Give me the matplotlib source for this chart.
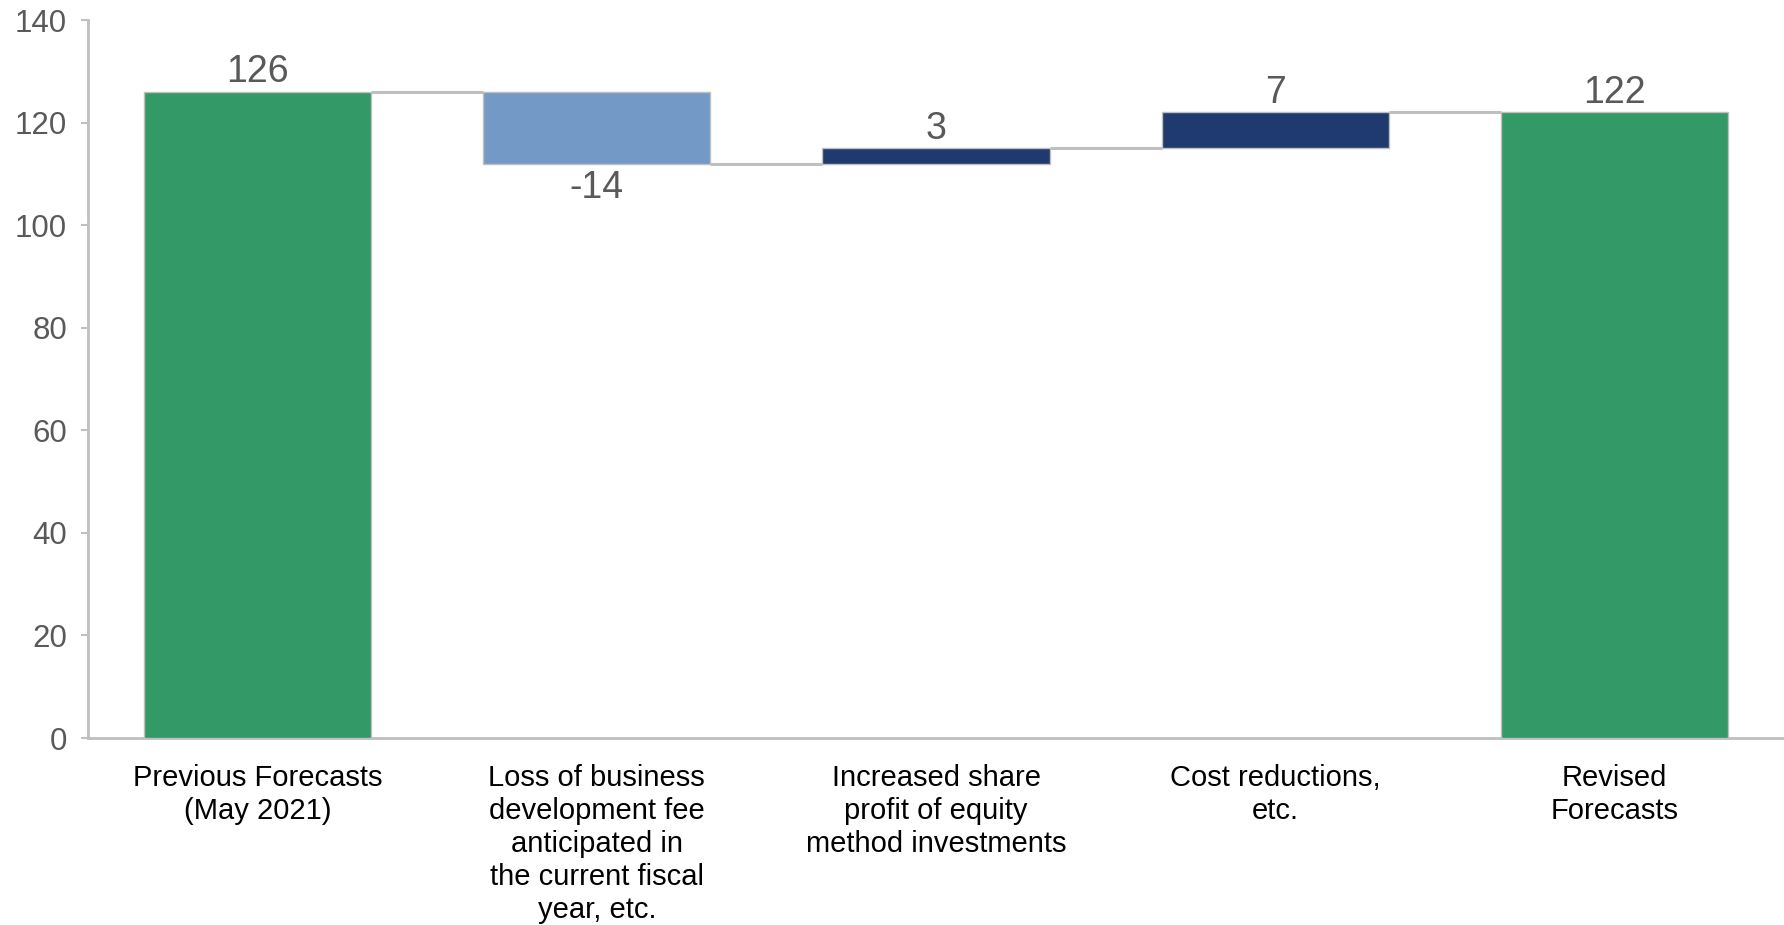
import numpy as np
import matplotlib.pyplot as plt

categories = [
    "Previous Forecasts\n(May 2021)",
    "Loss of business\ndevelopment fee\nanticipated in\nthe current fiscal\nyear, etc.",
    "Increased share\nprofit of equity\nmethod investments",
    "Cost reductions,\netc.",
    "Revised\nForecasts",
]
values = [126, -14, 3, 7, 122]
kinds = ["total", "delta", "delta", "delta", "total"]

GREEN = "#339966"
NEG = "#7399c6"
POS = "#1f3a6e"
GRAY = "#595959"
LINE = "#bfbfbf"

plt.rcParams["font.family"] = ["Liberation Sans", "DejaVu Sans"]

# waterfall bottoms / tops
bottoms, heights, colors = [], [], []
level = 0
for v, k in zip(values, kinds):
    if k == "total":
        bottoms.append(0)
        heights.append(v)
        colors.append(GREEN)
        level = v
    else:
        if v < 0:
            bottoms.append(level + v)
            heights.append(-v)
            colors.append(NEG)
        else:
            bottoms.append(level)
            heights.append(v)
            colors.append(POS)
        level += v
levels = np.cumsum([values[0]] + values[1:4]).tolist() + [values[4]]

fig = plt.figure(figsize=(17.84, 9.25), dpi=100)
ax = fig.add_axes([88 / 1784, 1 - 738 / 925, 1 - 88 / 1784, (738 - 20) / 925])

x = np.arange(len(categories))
w = 0.67
ax.bar(x, heights, bottom=bottoms, width=w, color=colors,
       edgecolor=LINE, linewidth=1, zorder=3)

# connectors
for i in range(len(x) - 1):
    ax.plot([x[i] + w / 2, x[i + 1] - w / 2], [levels[i], levels[i]],
            color=LINE, lw=2.2, zorder=2, solid_capstyle="butt")

# value labels
for i, v in enumerate(values):
    if v < 0:
        ax.text(x[i], bottoms[i] - 1.2, f"{v}", ha="center", va="top",
                fontsize=27, color=GRAY)
    else:
        ax.text(x[i], bottoms[i] + heights[i] + 0.3, f"{v}", ha="center",
                va="bottom", fontsize=27, color=GRAY)

ax.set_xlim(-0.5, 4.5)
ax.set_ylim(0, 140)
ax.set_yticks(range(0, 141, 20))
ax.set_xticks(x)
ax.set_xticklabels(categories, fontsize=21, color="black",
                   linespacing=1.22)
ax.tick_params(axis="x", length=0, pad=19)
ax.tick_params(axis="y", labelsize=22.5, labelcolor=GRAY, color=LINE,
               length=5, width=1.5, pad=10)
for s in ["top", "right"]:
    ax.spines[s].set_visible(False)
for s in ["left", "bottom"]:
    ax.spines[s].set_color(LINE)
    ax.spines[s].set_linewidth(2)

fig.savefig("out.png", dpi=100)
